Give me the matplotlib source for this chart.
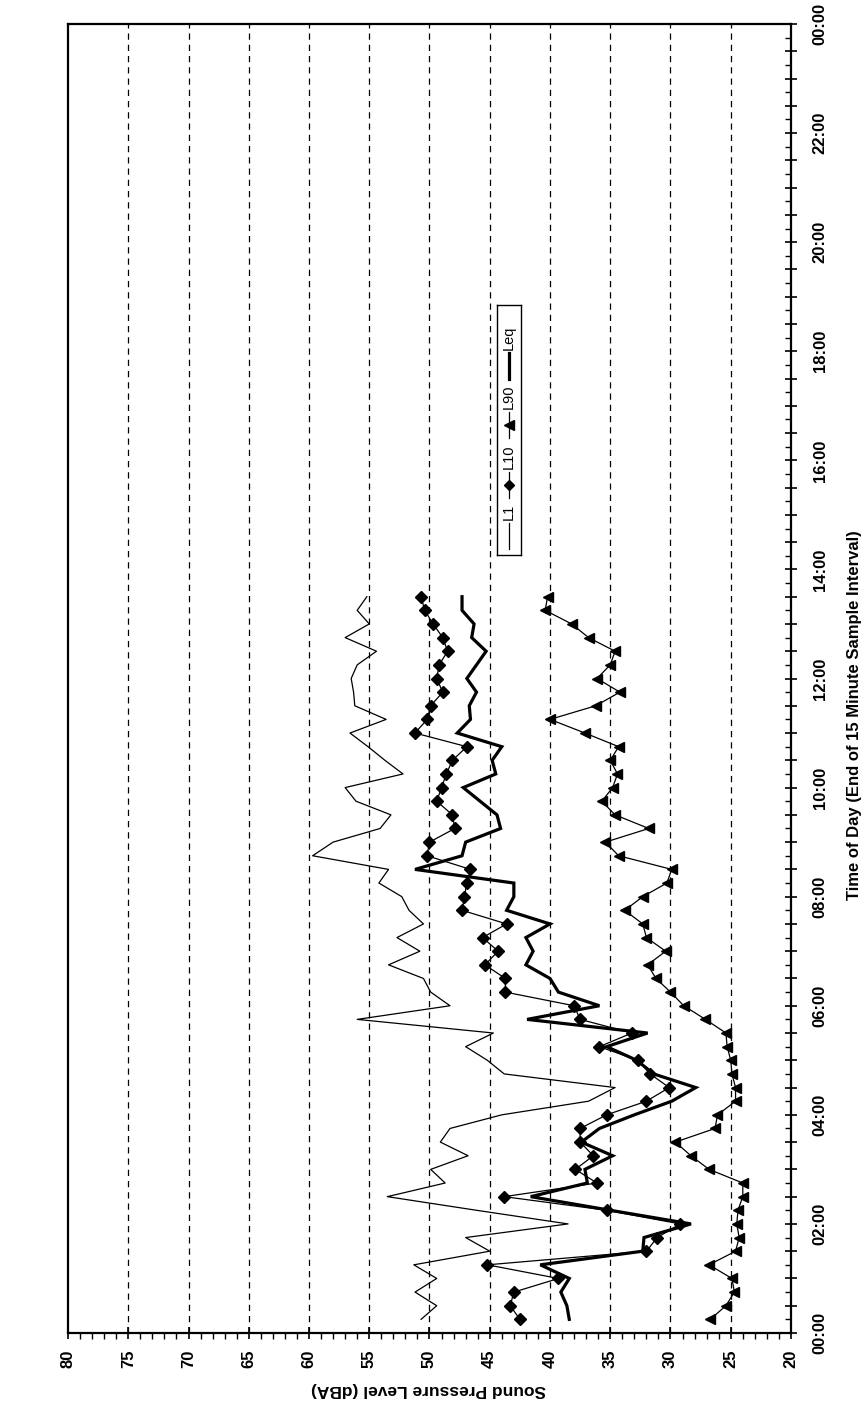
import matplotlib
matplotlib.use("Agg")
import matplotlib.pyplot as plt
from matplotlib.ticker import MultipleLocator, FuncFormatter
from matplotlib.lines import Line2D

plt.rcParams['font.family'] = ['Liberation Sans', 'DejaVu Sans']

# Interval end times (hours after midnight)
interval_end = ["00:15", "00:30", "00:45", "01:00", "01:15", "01:30", "01:45", "02:00",
                "02:15", "02:30", "02:45", "03:00", "03:15", "03:30", "03:45", "04:00",
                "04:15", "04:30", "04:45", "05:00", "05:15", "05:30", "05:45", "06:00",
                "06:15", "06:30", "06:45", "07:00", "07:15", "07:30", "07:45", "08:00",
                "08:15", "08:30", "08:45", "09:00", "09:15", "09:30", "09:45", "10:00",
                "10:15", "10:30", "10:45", "11:00", "11:15", "11:30", "11:45", "12:00",
                "12:15", "12:30", "12:45", "13:00", "13:15", "13:30"]

L1 = [50.7, 49.4, 51.2, 49.4, 51.3, 45.0, 47.0, 38.5, 46.1, 53.5, 48.7, 49.9, 46.8, 49.1,
      48.3, 44.0, 36.8, 34.6, 43.8, 45.2, 47.0, 44.7, 56.0, 48.3, 49.9, 50.5, 53.4, 50.8,
      52.7, 50.5, 51.7, 52.3, 54.2, 53.4, 59.7, 58.0, 54.1, 53.2, 56.1, 57.0, 52.2, 53.7,
      55.1, 56.6, 53.6, 56.2, 56.3, 56.5, 56.0, 54.4, 57.0, 55.0, 56.0, 55.2]

L10 = [42.5, 43.3, 43.0, 39.3, 45.2, 32.0, 31.1, 29.2, 35.3, 43.8, 36.1, 37.9, 36.4, 37.5,
       37.5, 35.3, 32.0, 30.1, 31.7, 32.7, 35.9, 33.2, 37.5, 38.0, 43.7, 43.7, 45.4, 44.3,
       45.6, 43.6, 47.3, 47.1, 46.9, 46.6, 50.2, 50.0, 47.9, 48.1, 49.4, 49.0, 48.6, 48.1,
       46.9, 51.2, 50.2, 49.9, 48.9, 49.4, 49.2, 48.5, 48.9, 49.7, 50.4, 50.7]

L90 = [26.7, 25.4, 24.7, 24.9, 26.8, 24.6, 24.3, 24.5, 24.4, 24.0, 24.0, 26.8, 28.3, 29.6,
       26.3, 26.1, 24.6, 24.6, 24.9, 25.0, 25.3, 25.4, 27.1, 28.9, 30.0, 31.2, 31.9, 30.4,
       32.0, 32.3, 33.8, 32.3, 30.3, 29.9, 34.3, 35.4, 31.8, 34.6, 35.7, 34.8, 34.4, 35.0,
       34.3, 37.1, 40.0, 36.2, 34.2, 36.1, 35.0, 34.6, 36.8, 38.2, 40.4, 40.2]

Leq = [38.4, 38.6, 39.1, 38.4, 40.8, 32.3, 32.2, 28.3, 35.0, 41.6, 36.9, 37.1, 34.8, 37.4,
       35.9, 33.0, 29.9, 27.9, 31.4, 32.8, 35.3, 31.9, 41.9, 35.9, 39.3, 40.0, 42.0, 41.4,
       42.0, 40.0, 43.6, 43.0, 43.0, 51.2, 47.3, 47.0, 44.1, 44.4, 45.8, 47.2, 44.5, 44.8,
       44.0, 47.7, 46.6, 46.7, 46.1, 46.9, 46.1, 45.3, 46.5, 46.3, 47.3, 47.3]

hour_labels = ["00:00", "02:00", "04:00", "06:00", "08:00", "10:00", "12:00",
               "14:00", "16:00", "18:00", "20:00", "22:00", "00:00"]


def to_hours(s):
    h, m = s.split(":")
    return int(h) + int(m) / 60.0


t = [to_hours(s) for s in interval_end]

W, H = 862, 1404
fig = plt.figure(figsize=(W / 100, H / 100), dpi=100)
fig.patch.set_facecolor("white")

# Page is turned: level runs along the bottom (80 -> 20), time runs up the right side
ax = fig.add_axes([68 / W, (H - 1333) / H, (791 - 68) / W, (1333 - 24) / H])
ax.set_xlim(80, 20)
ax.set_ylim(0, 24)

for v in range(25, 80, 5):
    ax.axvline(v, color="black", lw=0.9, ls=(0, (5, 4)), zorder=1)

ax.plot(L1, t, color="black", lw=0.9, zorder=3)
ax.plot(L10, t, color="black", lw=0.9, marker="D", ms=6, zorder=4)
ax.plot(L90, t, color="black", lw=0.9, marker="<", ms=7.5, zorder=4)
ax.plot(Leq, t, color="black", lw=2.3, solid_joinstyle="miter", zorder=5)

for s in ax.spines.values():
    s.set_linewidth(1.6)

# level axis
ax.xaxis.set_major_locator(MultipleLocator(5))
ax.xaxis.set_minor_locator(MultipleLocator(1))
ax.tick_params(axis="x", which="major", direction="inout", length=8, width=1.2,
               labelsize=12, pad=8, labelrotation=90, top=False)
ax.tick_params(axis="x", which="minor", direction="out", length=4, width=1.0, top=False)
for lab in ax.get_xticklabels():
    lab.set_fontweight("bold")
fig.text(428 / W, 1 - 1390 / H, "Sound Pressure Level (dBA)", rotation=180,
         fontsize=12.5, fontweight="bold", ha="center", va="center")

# time axis
ax.yaxis.tick_right()
ax.yaxis.set_major_locator(MultipleLocator(0.5))
ax.yaxis.set_minor_locator(MultipleLocator(0.25))


def hour_fmt(val, pos):
    k = round(val * 2)
    if k % 4 == 0:
        return hour_labels[k // 4]
    return ""


ax.yaxis.set_major_formatter(FuncFormatter(hour_fmt))
ax.tick_params(axis="y", which="major", direction="inout", length=9, width=1.2,
               labelsize=12, pad=11, left=False, right=True)
ax.tick_params(axis="y", which="minor", direction="in", length=4, width=1.0,
               left=False, right=True)
for lab in ax.get_yticklabels():
    lab.set_rotation(90)
    lab.set_verticalalignment("center")
    lab.set_fontweight("bold")
fig.text(855 / W, 1 - 715 / H, "Time of Day (End of 15 Minute Sample Interval)",
         rotation=90, fontsize=12, fontweight="bold", ha="center", va="center")

# legend drawn turned to match the page
lx0, ly_top, lw_, lh = 497, 305, 24, 250
lax = fig.add_axes([lx0 / W, (H - ly_top - lh) / H, lw_ / W, lh / H])
lax.set_xlim(0, lw_)
lax.set_ylim(0, lh)
lax.set_xticks([])
lax.set_yticks([])
for s in lax.spines.values():
    s.set_linewidth(1.0)
cx = lw_ / 2
items = [("L1", 0.9, None, 0), ("L10", 0.9, "D", 5), ("L90", 0.9, "<", 6.5), ("Leq", 2.3, None, 0)]
pos = 6
fig.canvas.draw()
rend = fig.canvas.get_renderer()
for name, lwid, mk, ms in items:
    seg = 26
    lax.add_line(Line2D([cx, cx], [pos, pos + seg], color="black", lw=lwid))
    if mk:
        lax.plot([cx], [pos + seg / 2], marker=mk, ms=ms, color="black")
    pos += seg + 3
    txt = lax.text(cx, pos, name, rotation=90, ha="center", va="bottom", fontsize=10.5)
    bb = txt.get_window_extent(renderer=rend)
    pos += bb.height + 6

fig.savefig("out.png", dpi=100, facecolor="white")
